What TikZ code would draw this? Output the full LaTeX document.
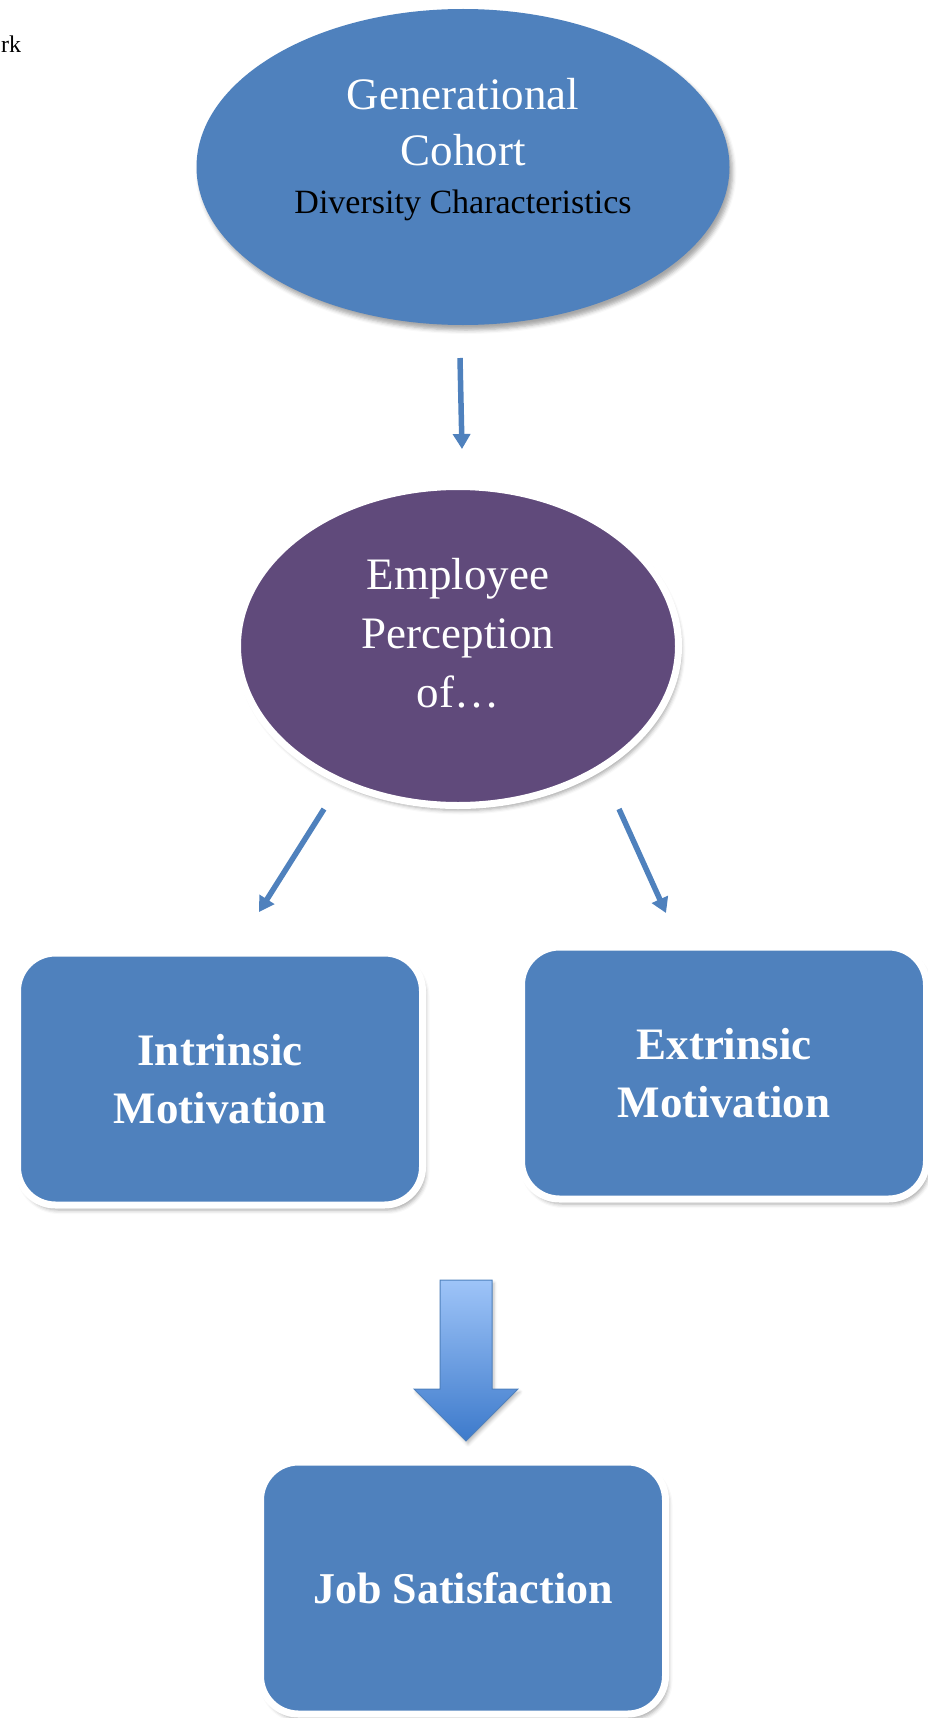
\documentclass[tikz,border=0pt]{standalone}
\usepackage{fontspec}
\setmainfont{Liberation Serif}
\usepackage{tikz}
\usetikzlibrary{arrows.meta,shapes.geometric,shadows.blur}
\definecolor{accentblue}{HTML}{4F81BD}
\definecolor{accentpurple}{HTML}{604A7B}
\definecolor{arrowtop}{HTML}{9EC4F8}
\definecolor{arrowbottom}{HTML}{3D7ACB}

\begin{document}
\begin{tikzpicture}[x=1pt,y=-1pt]
							\tikzstyle{oval}=[ellipse,fill=accentblue,inner sep=0pt,blur shadow={shadow xshift=3pt,shadow yshift=-5pt,shadow blur radius=4pt,shadow opacity=35}]
							\tikzstyle{box}=[rectangle,rounded corners=38pt,fill=accentblue,draw=white,line width=7pt,inner sep=0pt,minimum width=405pt,minimum height=252pt,text=white,align=center,font=\fontsize{45}{58}\selectfont\bfseries,blur shadow={shadow xshift=3pt,shadow yshift=-5pt,shadow blur radius=4pt,shadow opacity=35}]
							\tikzstyle{label}=[text=white,align=center,inner sep=0pt]
							\tikzstyle{link}=[accentblue,line width=5.5pt,-{Triangle[width=17pt,length=15pt]}]
							\useasboundingbox (0,0) rectangle (927,1718);
							\node[anchor=base west,inner sep=0pt,font=\fontsize{24}{28}\selectfont] (0) at (1,53) {rk};
							\node[oval,minimum width=533pt,minimum height=316pt] (1) at (463,167) {};
							\node[label,font=\fontsize{45}{56}\selectfont] (t1) at (463,150) {Generational\\Cohort\\[-8pt]{\fontsize{34}{40}\selectfont\color{black}Diversity Characteristics}};
							\node[oval,fill=accentpurple,draw=white,line width=7pt,minimum width=441pt,minimum height=319pt] (2) at (458,646) {};
							\node[label,font=\fontsize{45}{59}\selectfont] (t2) at (458,633) {Employee\\Perception\\of\ldots};
							\node[box] (3) at (220,1079) {Intrinsic\\Motivation};
							\node[box] (4) at (724,1073) {Extrinsic\\Motivation};
							\node[box,font=\fontsize{44}{58}\selectfont\bfseries] (5) at (463,1588) {Job Satisfaction};
							\coordinate (a1) at (460,358);
							\coordinate (a2) at (462,449);
							\coordinate (b1) at (324,809);
							\coordinate (b2) at (259,912);
							\coordinate (c1) at (619,809);
							\coordinate (c2) at (666,913);
							\draw[link] (a1) -- (a2);
							\draw[link] (b1) -- (b2);
							\draw[link] (c1) -- (c2);
							\draw[draw=accentblue,line width=1pt,top color=arrowtop,bottom color=arrowbottom,blur shadow={shadow xshift=2pt,shadow yshift=-3pt,shadow blur radius=3pt,shadow opacity=25}] (440,1280) -- (492,1280) -- (492,1389) -- (518,1389) -- (466,1441) -- (414,1389) -- (440,1389) -- cycle;
\end{tikzpicture}
\end{document}
